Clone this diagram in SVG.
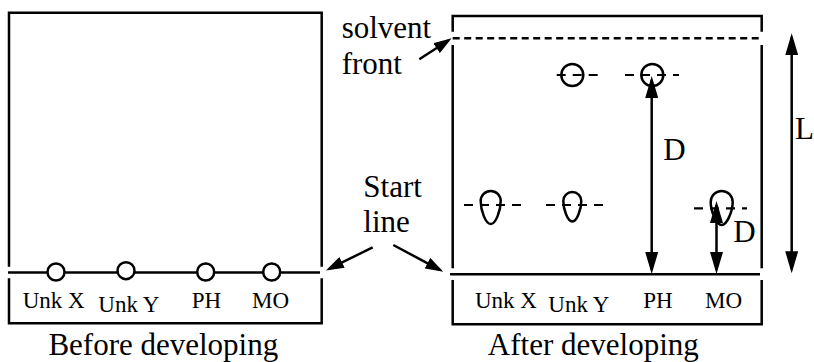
<svg xmlns="http://www.w3.org/2000/svg" width="814" height="362" viewBox="0 0 814 362">
<style>
.ln{stroke:#000;stroke-width:2.5;fill:none}
.dash{stroke:#000;stroke-width:2.5;fill:none;stroke-dasharray:7,4.5}
.sd{stroke:#000;stroke-width:2.2;fill:none;stroke-dasharray:9,7}
.spot{stroke:#000;stroke-width:2.5;fill:none}
.dot{stroke:#000;stroke-width:2.5;fill:#fff}
.darr{stroke:#000;stroke-width:2.5;fill:none;marker-start:url(#ah);marker-end:url(#ah)}
.parr{stroke:#000;stroke-width:2.5;fill:none;marker-end:url(#ph)}
text{font-family:"Liberation Serif","Times New Roman",serif;fill:#000}
.big{font-size:31px}
.sm{font-size:23px}
</style>
<defs>
<marker id="ah" viewBox="0 0 22 13" refX="18" refY="6.5" markerWidth="22" markerHeight="13" orient="auto-start-reverse" markerUnits="userSpaceOnUse"><path d="M0,0 L22,6.5 L0,13 Z" fill="#000"/></marker>
<marker id="ph" viewBox="0 0 18 12" refX="14" refY="6" markerWidth="18" markerHeight="12" orient="auto" markerUnits="userSpaceOnUse"><path d="M0,0 L18,6 L0,12 Z" fill="#000"/></marker>
</defs>

<g id="before-plate">
<path class="ln" d="M9,266.7 V12.7 H321.7 V266.7"/>
<path class="ln" d="M9,278.3 V323.3 H321.7 V278.3"/>
<line class="ln" x1="8" y1="272.5" x2="320" y2="272.5"/>
<circle class="dot" cx="56" cy="272" r="8.5"/>
<circle class="dot" cx="126" cy="270.7" r="8.5"/>
<circle class="dot" cx="205.7" cy="272" r="8.5"/>
<circle class="dot" cx="271.7" cy="272" r="8.5"/>
<text class="sm" x="22.7" y="308.3">Unk X</text>
<text class="sm" x="98.3" y="311.5">Unk Y</text>
<text class="sm" x="191.7" y="308.3">PH</text>
<text class="sm" x="252" y="308.3">MO</text>
<text class="big" x="163.3" y="355" text-anchor="middle">Before developing</text>
</g>

<g id="after-plate">
<path class="ln" d="M452.7,31.7 V16 H761.7 V31.7"/>
<line class="dash" x1="452.7" y1="38.3" x2="761.7" y2="38.3"/>
<line class="ln" x1="452.7" y1="45" x2="452.7" y2="268.3"/>
<line class="ln" x1="761.7" y1="45" x2="761.7" y2="268.3"/>
<line class="ln" x1="450" y1="274.3" x2="760" y2="274.3"/>
<path class="ln" d="M452.7,280 V324.3 H761.7 V280"/>
<text class="sm" x="475" y="308.3">Unk X</text>
<text class="sm" x="548.3" y="311.5">Unk Y</text>
<text class="sm" x="643.3" y="308.3">PH</text>
<text class="sm" x="705" y="308.3">MO</text>
<text class="big" x="593.3" y="355" text-anchor="middle">After developing</text>
</g>

<g id="spots">
<line class="sd" x1="556.7" y1="75" x2="601" y2="75"/>
<circle class="spot" cx="572.3" cy="75" r="11"/>
<line class="sd" x1="625" y1="75" x2="679" y2="75"/>
<circle class="spot" cx="652.3" cy="75" r="11"/>
<line class="sd" x1="464" y1="205" x2="521" y2="205"/>
<path class="spot" d="M480.7,201 A10,10 0 0 1 500.7,201 C500.7,210 496,224 490.7,224 C485.4,224 480.7,210 480.7,201 Z"/>
<line class="sd" x1="546" y1="205" x2="607" y2="205"/>
<path class="spot" d="M563.3,201 A9,9 0 0 1 581.3,201 C581.3,209 577,221.5 572.3,221.5 C567.6,221.5 563.3,209 563.3,201 Z"/>
<line class="sd" x1="694" y1="208.3" x2="747" y2="208.3"/>
<path class="spot" d="M710.7,202 A11,11 0 0 1 732.7,202 C732.7,211 727,225 721.7,225 C716.4,225 710.7,211 710.7,202 Z"/>
</g>

<g id="connectors">
<line class="darr" x1="651.7" y1="80" x2="651.7" y2="270"/>
<line class="darr" x1="716.5" y1="205" x2="716.5" y2="270"/>
<line class="darr" x1="791.7" y1="37.3" x2="791.7" y2="269.3"/>
<line class="parr" x1="419.3" y1="59.3" x2="448.3" y2="40.5"/>
<line class="parr" x1="372.7" y1="247.3" x2="329.5" y2="268.7"/>
<line class="parr" x1="393.3" y1="245" x2="439.8" y2="269.8"/>
</g>

<g id="labels">
<text class="big" x="341.7" y="38">solvent</text>
<text class="big" x="341.7" y="73.5">front</text>
<text class="big" x="363.3" y="196.7">Start</text>
<text class="big" x="363.3" y="231.7">line</text>
<text class="big" x="663.3" y="160">D</text>
<text class="big" x="733.3" y="241.7">D</text>
<text class="big" x="795" y="138.5">L</text>
</g>
</svg>
